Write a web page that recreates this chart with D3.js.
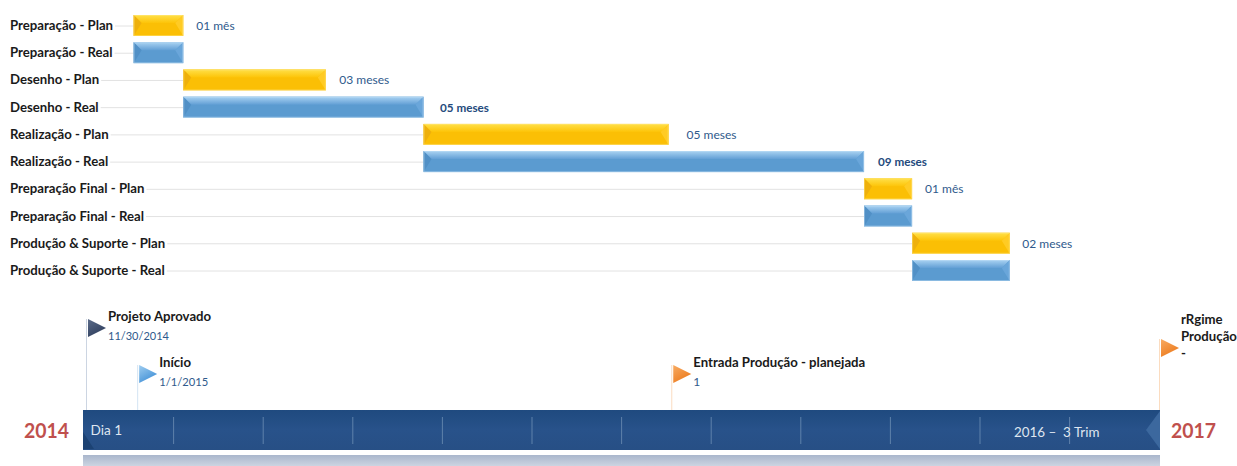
<!DOCTYPE html>
<html lang="pt">
<head>
<meta charset="utf-8">
<title>Cronograma do projeto</title>
<script src="https://cdn.jsdelivr.net/npm/d3@7/dist/d3.min.js"></script>
<style>
  html, body { margin: 0; padding: 0; background: #fff; }
  svg { display: block; }
  text { font-family: Lato, "Open Sans", sans-serif; }
</style>
</head>
<body>
<svg id="chart" width="1237" height="466"></svg>
<script>
// Phases, each one planned and actual
const taskNames = [
  "Preparação - Plan", "Preparação - Real",
  "Desenho - Plan", "Desenho - Real",
  "Realização - Plan", "Realização - Real",
  "Preparação Final - Plan", "Preparação Final - Real",
  "Produção & Suporte - Plan", "Produção & Suporte - Real"
];
const taskKinds = ["plan","real","plan","real","plan","real","plan","real","plan","real"];
const taskStarts = [
  "2015-01-01","2015-01-01","2015-02-01","2015-02-01","2015-07-01",
  "2015-07-01","2016-04-01","2016-04-01","2016-05-01","2016-05-01"
];
const taskMonths = [1, 1, 3, 5, 5, 9, 1, 1, 2, 2];
const durationLabels = ["01 mês","","03 meses","05 meses","05 meses","09 meses","01 mês","","02 meses",""];
const durationBold = [false,false,false,true,false,true,false,false,false,false];

// Milestones on the timeline band
const milestoneTitles = [["Projeto Aprovado"],["Início"],["Entrada Produção - planejada"],["rRgime","Produção","-"]];
const milestoneNotes = ["11/30/2014","1/1/2015","1",""];
const milestoneDates = ["2014-11-30","2015-01-01","2015-12-01","2016-10-01"];
const milestoneColors = ["navy","sky","orange","orange"];

const bandSegments = d3.range(13);
const bandYears = ["2014","2017"];

// Layout
const milestoneFlagY = [328,374,374,348];
const noteWidths = [61, 49, 0, 0];
const labelGaps = [13,0,13.5,16.5,18,14,13,0,12.5,0];

const parseDay = d3.utcParse("%Y-%m-%d");
const svg = d3.select("#chart");
const defs = svg.append("defs");

function linearGrad(id, stops, x2 = 0, y2 = 1) {
  const g = defs.append("linearGradient").attr("id", id)
    .attr("x1", 0).attr("y1", 0).attr("x2", x2).attr("y2", y2);
  stops.forEach(([o, c]) => g.append("stop").attr("offset", o).attr("stop-color", c));
}
linearGrad("planTop", [[0,"#ffe04a"],[1,"#fdc408"]]);
linearGrad("realTop", [[0,"#a9d2f2"],[1,"#629fd5"]]);
linearGrad("bandFill", [[0,"#1f4a7f"],[0.5,"#28528a"],[1,"#274f85"]]);
linearGrad("shadowFill", [[0,"#a9b6cc"],[1,"#ccd4e1"]]);
linearGrad("flag-navy", [[0,"#5c6c8a"],[1,"#2e3d5c"]], 0.6, 1);
linearGrad("flag-sky", [[0,"#9fcdf0"],[1,"#3f8fd6"]], 0.6, 1);
linearGrad("flag-orange", [[0,"#f8ab62"],[1,"#ec7a1c"]], 0.6, 1);

// Gantt scales
const x = d3.scaleUtc()
  .domain([parseDay("2015-01-01"), parseDay("2016-07-01")])
  .range([133.6, 1009.8]);
const y = d3.scalePoint().domain(d3.range(taskNames.length)).range([25.5, 270.5]);
const barH = 21;

const palettes = {
  plan: { main: "#fbbf05", top: "url(#planTop)", side: "#eeb00c", right: "#ffcb24", edge: "#ffe98a" },
  real: { main: "#5b9bd0", top: "url(#realTop)", side: "#5190c6", right: "#6aa6da", edge: "#c4e0f6" }
};

const rows = svg.append("g").selectAll("g")
  .data(taskNames.map((name, i) => ({
    name, i,
    kind: taskKinds[i],
    x0: x(parseDay(taskStarts[i])),
    x1: x(d3.utcMonth.offset(parseDay(taskStarts[i]), taskMonths[i])),
    label: durationLabels[i],
    bold: durationBold[i],
    gap: labelGaps[i]
  })))
  .join("g");

// Row name with a leader running to the start of the bar
rows.each(function (d) {
  const g = d3.select(this), cy = y(d.i);
  const t = g.append("text").attr("x", 10).attr("y", cy + 4.5)
    .attr("font-size", 13.2).attr("font-weight", 700).attr("fill", "#1a1a1a").text(d.name);
  g.insert("line", "text")
    .attr("x1", 10 + t.node().getComputedTextLength() + 2).attr("x2", d.x0)
    .attr("y1", cy + 0.5).attr("y2", cy + 0.5)
    .attr("stroke", "#e2e2e2").attr("stroke-width", 1);
});

// Bevelled bars
rows.each(function (d) {
  const g = d3.select(this), p = palettes[d.kind];
  const t = y(d.i) - barH / 2, b = t + barH, l = d.x0, r = d.x1, bev = 8;
  const line = d3.line();
  g.append("rect").attr("x", l).attr("y", t).attr("width", r - l).attr("height", barH).attr("fill", p.main);
  g.append("path").attr("d", line([[l, t], [r, t], [r - bev, t + bev], [l + bev, t + bev]]) + "Z").attr("fill", p.top);
  g.append("path").attr("d", line([[l, t], [l + bev, t + bev], [l, b]]) + "Z").attr("fill", p.side);
  g.append("path").attr("d", line([[r, t], [r - bev, t + bev], [r, b]]) + "Z").attr("fill", p.right);
  g.append("rect").attr("x", l + 0.5).attr("y", t + 0.5).attr("width", r - l - 1).attr("height", barH - 1)
    .attr("fill", "none").attr("stroke", p.edge).attr("stroke-width", 1).attr("stroke-opacity", 0.45);
  if (d.label) {
    g.append("text").attr("x", r + d.gap).attr("y", y(d.i) + 4.5)
      .attr("font-size", d.bold ? 11.7 : 12).attr("font-weight", d.bold ? 700 : 400)
      .attr("fill", d.bold ? "#244a7c" : "#2f5a8c").text(d.label);
  }
});

// Timeline band
const bandLeft = 83, bandRight = 1160, bandTop = 410, bandBottom = 450;
svg.append("rect").attr("x", bandLeft).attr("y", 455).attr("width", bandRight - bandLeft).attr("height", 11).attr("fill", "url(#shadowFill)");
svg.append("rect").attr("x", bandLeft).attr("y", bandTop).attr("width", bandRight - bandLeft).attr("height", bandBottom - bandTop).attr("fill", "url(#bandFill)");
svg.append("path").attr("d", d3.line()([[bandLeft, bandTop + 22], [bandLeft + 11, bandBottom - 1], [bandLeft, bandBottom - 1]]) + "Z").attr("fill", "#1c4273");
svg.append("path").attr("d", d3.line()([[bandRight, bandTop + 1], [bandRight - 14, bandTop + 20], [bandRight, bandBottom - 1]]) + "Z").attr("fill", "#3c689e");

const seg = d3.scaleLinear().domain([0, 12]).range([83.5, 1158.7]);
svg.append("g").selectAll("line").data(bandSegments.slice(1, 12)).join("line")
  .attr("x1", d => seg(d) + 0.5).attr("x2", d => seg(d) + 0.5)
  .attr("y1", bandTop + 7).attr("y2", bandBottom - 6)
  .attr("stroke", "#5f82ab").attr("stroke-width", 1);

svg.append("text").attr("x", 90.5).attr("y", 435).attr("font-size", 13.6).attr("fill", "#dfe6f0").text("Dia 1");
svg.append("text").attr("x", 1014).attr("y", 437).attr("font-size", 13.4).attr("fill", "#dfe6f0").attr("xml:space", "preserve").text("2016 –  3 Trim");

svg.selectAll("text.year").data(bandYears).join("text").attr("class", "year")
  .attr("x", (d, i) => i ? 1171 : 24).attr("y", 438)
  .attr("font-size", 21).attr("font-weight", 700).attr("fill", "#c0504d")
  .attr("textLength", 45).attr("lengthAdjust", "spacingAndGlyphs").text(d => d);

// Milestone flags
const tx = d3.scaleUtc()
  .domain([parseDay("2014-11-30"), parseDay("2016-10-01")])
  .range([86, 1159]);
const poleColors = { navy: "#ccd5e2", sky: "#d4e4f3", orange: "#fbdcc0" };

milestoneTitles.forEach((title, i) => {
  const px = tx(parseDay(milestoneDates[i])), fy = milestoneFlagY[i], c = milestoneColors[i];
  const g = svg.append("g");
  g.append("line").attr("x1", px + 0.5).attr("x2", px + 0.5).attr("y1", fy - 9).attr("y2", bandTop)
    .attr("stroke", poleColors[c]).attr("stroke-width", 1);
  g.append("path")
    .attr("d", d3.line()([[px + 2, fy - 9], [px + 20, fy], [px + 2, fy + 9]]) + "Z")
    .attr("fill", `url(#flag-${c})`);
  const singleLine = title.length === 1;
  title.forEach((line, k) => {
    g.append("text")
      .attr("x", px + 22)
      .attr("y", singleLine ? fy - 7 : fy - 24 + k * 17)
      .attr("font-size", 13.2).attr("font-weight", 700).attr("fill", "#1a1a1a").text(line);
  });
  if (milestoneNotes[i]) {
    const note = g.append("text").attr("x", px + 22).attr("y", fy + 12)
      .attr("font-size", 12).attr("fill", "#2f5a8c").text(milestoneNotes[i]);
    if (noteWidths[i]) note.attr("textLength", noteWidths[i]).attr("lengthAdjust", "spacingAndGlyphs");
  }
});
</script>
</body>
</html>
